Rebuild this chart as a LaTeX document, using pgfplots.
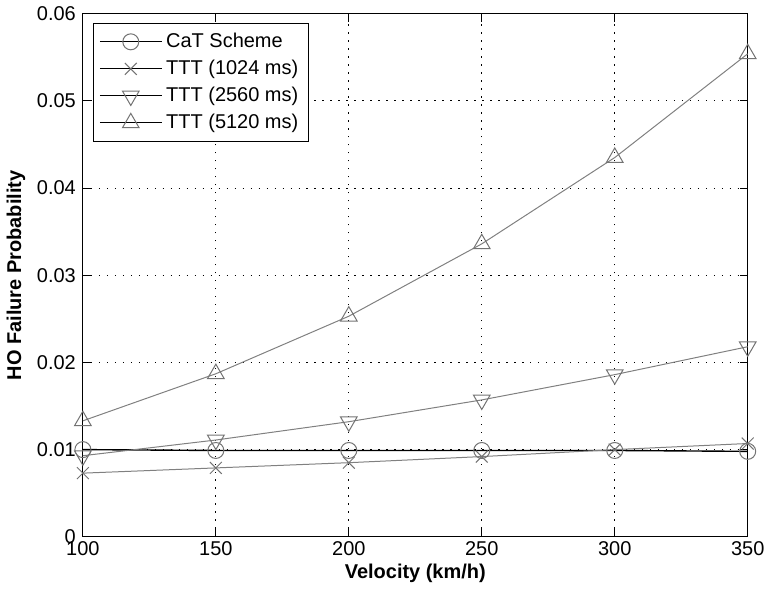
\documentclass[border=0pt]{standalone}
\usepackage{fontspec}
\setmainfont{Liberation Sans}
\usepackage{pgfplots}
\pgfplotsset{compat=1.18}
\definecolor{markgray}{gray}{0.45}
\definecolor{linegray}{gray}{0.5}

\begin{document}
\begin{tikzpicture}
\begin{axis}[
    scale only axis,
    width=333pt, height=262pt,
    xmin=100, xmax=350, ymin=0, ymax=0.06,
    xtick={100,150,200,250,300,350},
    ytick={0,0.01,0.02,0.03,0.04,0.05,0.06},
    yticklabels={0,0.01,0.02,0.03,0.04,0.05,0.06},
    scaled y ticks=false,
    /pgf/number format/assume math mode=true,
    ticklabel style={font=\fontsize{10}{11}\selectfont},
    xticklabel style={yshift=1pt},
    tick align=inside,
    major tick length=4pt,
    tick style={black, line width=0.5pt},
    axis line style={black, line width=0.6pt},
    grid=major,
    major grid style={black, line width=0.5pt, dash pattern=on 0.7pt off 3.3pt},
    xlabel={\bfseries Velocity (km/h)},
    ylabel={\bfseries HO Failure Probability},
    label style={font=\fontsize{10}{11}\selectfont},
    xlabel style={yshift=3pt},
    ylabel style={yshift=-1pt},
    clip=false,
    legend cell align=left,
    legend style={at={(0.015,0.983)}, anchor=north west, draw=black,
        line width=0.5pt, font=\fontsize{10}{11}\selectfont,
        row sep=0.8pt, inner xsep=3pt, inner ysep=3pt},
    legend image code/.code={
        \draw[black, mark=none, line width=0.5pt] (0cm,0cm) -- (31pt,0cm);
        \draw[only marks] plot coordinates {(15.5pt,0cm)};
    },
]
\addplot[black, line width=0.7pt, mark=o, mark size=4pt,
    mark options={markgray, line width=0.5pt}] coordinates {
    (100, 0.0100) (150, 0.0099) (200, 0.0099) (250, 0.0099) (300, 0.0099) (350, 0.0098)
};
\addlegendentry{CaT Scheme}
\addplot[linegray, line width=0.5pt, mark=x, mark size=4.2pt,
    mark options={markgray, line width=0.5pt}] coordinates {
    (100, 0.0073) (150, 0.0079) (200, 0.0085) (250, 0.0092) (300, 0.0100) (350, 0.0107)
};
\addlegendentry{TTT (1024 ms)}
\addplot[linegray, line width=0.5pt, mark=triangle, mark size=4.8pt,
    mark options={markgray, line width=0.5pt, rotate=180}] coordinates {
    (100, 0.0093) (150, 0.0111) (200, 0.0132) (250, 0.0157) (300, 0.0186) (350, 0.0218)
};
\addlegendentry{TTT (2560 ms)}
\addplot[linegray, line width=0.5pt, mark=triangle, mark size=4.8pt,
    mark options={markgray, line width=0.5pt}] coordinates {
    (100, 0.0133) (150, 0.0187) (200, 0.0253) (250, 0.0336) (300, 0.0435) (350, 0.0554)
};
\addlegendentry{TTT (5120 ms)}
\end{axis}
\end{tikzpicture}
\end{document}
